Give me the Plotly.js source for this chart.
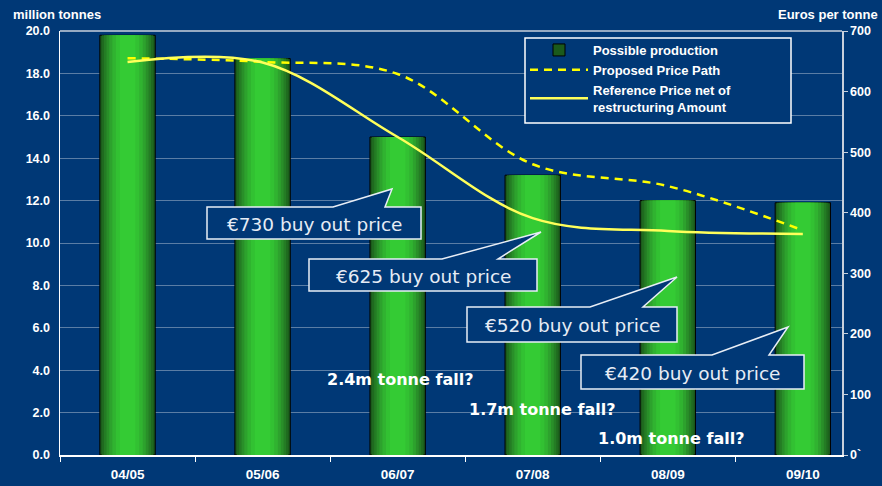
<!DOCTYPE html>
<html>
<head>
<meta charset="utf-8">
<script src="https://cdn.plot.ly/plotly-3.0.1.min.js"></script>
<style>
  html, body { margin: 0; padding: 0; background: #003876; }
  #chart { width: 882px; height: 486px; }
</style>
</head>
<body>
<div id="chart"></div>
<script>
// ---------- data ----------
const categories = ['04/05', '05/06', '06/07', '07/08', '08/09', '09/10'];
const production = [19.8, 18.7, 15.0, 13.2, 12.0, 11.9];          // million tonnes
const proposedPrice = [655, 649, 629, 480, 444, 371];              // euros per tonne
const referencePrice = [649, 648, 525, 391, 370, 365];             // euros per tonne
const priceTickVals = [0, 100, 200, 300, 400, 500, 600, 700];
const priceTickText = ['0`', '100', '200', '300', '400', '500', '600', '700'];
const calloutTexts = ['€730 buy out price', '€625 buy out price', '€520 buy out price', '€420 buy out price'];
const fallTexts = ['2.4m tonne fall?', '1.7m tonne fall?', '1.0m tonne fall?'];
const seriesNames = ['Possible production', 'Proposed Price Path', 'Reference Price net of<br>restructuring Amount'];

// ---------- layout helpers (pixel -> paper) ----------
const W = 882, H = 486;
const M = { l: 60, r: 40, t: 31, b: 31 };
const PW = W - M.l - M.r, PH = H - M.t - M.b;
const px = x => (x - M.l) / PW;
const py = y => (H - M.b - y) / PH;
const pt = (x, y) => px(x).toFixed(5) + ',' + py(y).toFixed(5);

const BG = '#003876';
const barWidth = 0.41;
// gradient layers for the cylinder-like bars: [fraction of width, colour]
const layers = [
  [1.00, '#1b5a1b'], [0.93, '#1f6a1f'], [0.85, '#247c24'], [0.76, '#298f29'],
  [0.66, '#2da22d'], [0.55, '#30b330'], [0.42, '#32c132'], [0.28, '#34cb34']
];

const traces = [];
layers.forEach((ly, i) => {
  traces.push({
    type: 'bar', x: categories, y: production,
    width: barWidth * ly[0],
    marker: { color: ly[1], line: { color: i === 0 ? '#000000' : 'rgba(0,0,0,0)', width: i === 0 ? 1 : 0 } },
    name: seriesNames[0], showlegend: i === 0, hoverinfo: 'skip'
  });
});
traces.push({
  type: 'scatter', mode: 'lines', x: categories, y: proposedPrice, yaxis: 'y2',
  line: { color: '#ffff00', width: 2.5, dash: '8px,6px', shape: 'spline', smoothing: 1 },
  name: seriesNames[1]
});
traces.push({
  type: 'scatter', mode: 'lines', x: categories, y: referencePrice, yaxis: 'y2',
  line: { color: '#ffff5a', width: 2.5, shape: 'spline', smoothing: 1 },
  name: seriesNames[2]
});

// ---------- callouts (speech bubbles) ----------
const calloutBoxes = [
  { x0: 207, x1: 421, y0: 207, y1: 239, tail: [[333, 207], [392, 189], [385, 207]] },
  { x0: 309, x1: 537, y0: 259, y1: 291, tail: [[442, 259], [541, 232], [498, 259]] },
  { x0: 467, x1: 677, y0: 307, y1: 342, tail: [[590, 307], [677, 277], [643, 307]] },
  { x0: 581, x1: 804, y0: 355, y1: 389, tail: [[712, 355], [788, 327], [769, 355]] }
];
const fallPos = [[400, 379], [542, 409], [671, 438]];
const legendBox = { x0: 525, x1: 791, y0: 38, y1: 123 };

const shapes = calloutBoxes.map(b => ({
  type: 'path', xref: 'paper', yref: 'paper', layer: 'above',
  path: 'M' + [pt(b.x0, b.y0), pt(b.tail[0][0], b.tail[0][1]), pt(b.tail[1][0], b.tail[1][1]),
               pt(b.tail[2][0], b.tail[2][1]), pt(b.x1, b.y0), pt(b.x1, b.y1), pt(b.x0, b.y1)].join(' L') + ' Z',
  fillcolor: BG, line: { color: '#e8eef6', width: 1.5 }
}));
// legend frame
shapes.push({
  type: 'rect', xref: 'paper', yref: 'paper', layer: 'above',
  x0: px(legendBox.x0), x1: px(legendBox.x1), y0: py(legendBox.y1), y1: py(legendBox.y0),
  fillcolor: BG, line: { color: '#ffffff', width: 1.5 }
});

const annotations = [];
calloutBoxes.forEach((b, i) => {
  annotations.push({
    xref: 'paper', yref: 'paper', x: px((b.x0 + b.x1) / 2), y: py((b.y0 + b.y1) / 2 + 1),
    xanchor: 'center', yanchor: 'middle',
    text: calloutTexts[i], showarrow: false,
    font: { family: 'DejaVu Sans, Verdana, sans-serif', size: 18.5, color: '#e6ecf5' }
  });
});
fallTexts.forEach((t, i) => {
  annotations.push({
    xref: 'paper', yref: 'paper', x: px(fallPos[i][0]), y: py(fallPos[i][1]),
    xanchor: 'center', yanchor: 'middle', text: t, showarrow: false,
    font: { family: 'DejaVu Sans, Verdana, sans-serif', size: 16, color: '#ffffff', weight: 'bold' }
  });
});
annotations.push({
  xref: 'paper', yref: 'paper', x: px(11), y: py(14), xanchor: 'left', yanchor: 'middle',
  text: 'million tonnes', showarrow: false,
  font: { family: 'Liberation Sans, Arial, sans-serif', size: 13, color: '#ffffff', weight: 'bold' }
});
annotations.push({
  xref: 'paper', yref: 'paper', x: px(880), y: py(14), xanchor: 'right', yanchor: 'middle',
  text: 'Euros per tonne', showarrow: false,
  font: { family: 'Liberation Sans, Arial, sans-serif', size: 13, color: '#ffffff', weight: 'bold' }
});

const tickFont = { family: 'Liberation Sans, Arial, sans-serif', size: 12.5, color: '#ffffff', weight: 'bold' };

const layout = {
  width: W, height: H,
  margin: M,
  paper_bgcolor: BG, plot_bgcolor: BG,
  barmode: 'overlay',
  showlegend: true,
  legend: {
    x: px(legendBox.x0), y: py(legendBox.y0 - 3), xanchor: 'left', yanchor: 'top',
    bgcolor: 'rgba(0,0,0,0)', borderwidth: 0,
    font: { family: 'Liberation Sans, Arial, sans-serif', size: 13, color: '#ffffff', weight: 'bold' },
    itemwidth: 58, traceorder: 'normal', tracegroupgap: 0
  },
  xaxis: {
    type: 'category', range: [-0.5, 5.29],
    showgrid: false, zeroline: false,
    showline: true, linecolor: '#ffffff', linewidth: 1.5, mirror: false,
    ticks: 'outside', tickson: 'boundaries', ticklen: 5, tickcolor: '#ffffff', tickwidth: 1,
    tickfont: Object.assign({}, tickFont, { size: 13.5 }), ticklabelstandoff: 6
  },
  yaxis: {
    range: [0, 20], dtick: 2, tickformat: '.1f',
    showgrid: true, gridcolor: 'rgba(200,210,225,0.45)', gridwidth: 1,
    zeroline: false, showline: true, linecolor: '#ffffff', linewidth: 1.5,
    ticks: '', tickfont: tickFont, ticklabelstandoff: 6
  },
  yaxis2: {
    overlaying: 'y', side: 'right', range: [0, 700],
    tickvals: priceTickVals, ticktext: priceTickText,
    showgrid: false, zeroline: false, showline: true, linecolor: '#c8d0dc', linewidth: 1.5,
    ticks: 'outside', ticklen: 4, tickcolor: '#c8d0dc', tickfont: tickFont
  },
  shapes: [
    { type: 'line', xref: 'paper', yref: 'paper', x0: 0, x1: 1, y0: 1, y1: 1, line: { color: '#c8d0dc', width: 1.5 }, layer: 'below' }
  ].concat(shapes),
  annotations: annotations
};

Plotly.newPlot('chart', traces, layout, { staticPlot: true, displayModeBar: false });
</script>
</body>
</html>
